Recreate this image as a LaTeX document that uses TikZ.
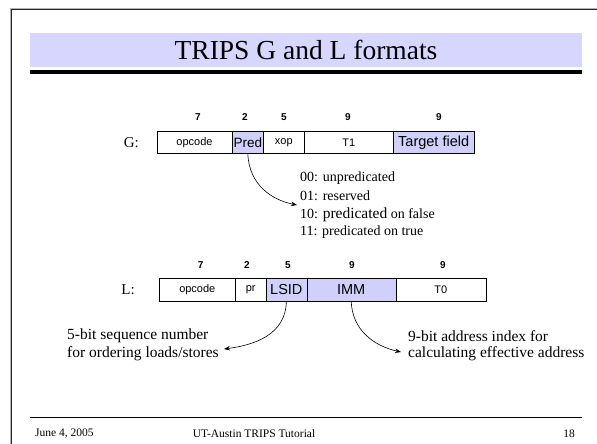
\documentclass[tikz,border=0pt]{standalone}
\usepackage{fontspec}
\setmainfont{Liberation Serif}
\newfontfamily\arialf{Liberation Sans}
\usetikzlibrary{arrows.meta}
\definecolor{tband}{RGB}{214,214,255}
\definecolor{ffill}{RGB}{208,208,250}
\newcommand\fsz[1]{\fontsize{#1}{#1}\selectfont}
\begin{document}
\begin{tikzpicture}[x=1pt,y=-1pt,
 field/.style={draw, inner sep=0, minimum height=22pt, font=\arialf\fsz{11}},
 hifield/.style={field, fill=ffill, font=\arialf\fsz{14.5}},
 bits/.style={font=\arialf\bfseries\fsz{10}},
 rowlab/.style={font=\fsz{15}, anchor=east, inner sep=0},
 note/.style={font=\fsz{14}, anchor=west, inner sep=0},
 bignote/.style={font=\fsz{15.5}, anchor=west, inner sep=0},
 foot/.style={font=\fsz{11.5}, inner sep=0},
 conn/.style={-{Stealth[length=6pt,width=4.5pt]}, line width=0.6pt}
]
\useasboundingbox (0,0) rectangle (597,444);
\fill[white] (0,0) rectangle (597,444);
% frame
\draw[gray!60, line width=1pt] (10,444) -- (10,8.5) -- (597,8.5);
\draw[black!85, line width=1pt] (11.5,444) -- (11.5,10) -- (597,10);
% title
\fill[tband] (30,33) rectangle (582,67);
\fill[black] (30,70) rectangle (582,74);
\node[font=\fsz{27.5}] (title) at (306,50) {TRIPS G and L formats};
% G row
\node[rowlab] (glab) at (139,142.3) {G:};
\node[field, minimum width=75.6pt] (gop) at (194.5,142.3) {opcode};
\node[hifield, minimum width=31pt, font=\arialf\fsz{13.5}] (gpred) at (247.8,142.3) {Pred};
\node[field, minimum width=41pt] (gxop) at (283.8,142.3) {xop};
\node[field, minimum width=89pt] (gt1) at (348.8,142.3) {T1};
\node[hifield, minimum width=80.7pt] (gtgt) at (433.65,142.3) {Target field};
\node[bits] (gb1) at (198,117) {7};
\node[bits] (gb2) at (245,117) {2};
\node[bits] (gb3) at (284,117) {5};
\node[bits] (gb4) at (348,117) {9};
\node[bits] (gb5) at (439,117) {9};
% predicate list
\node[note] (p1) at (300,178) {00: unpredicated};
\node[note] (p2) at (300,196) {01: reserved};
\node[note] (p3) at (300,214.5) {10: {\fsz{15.5}predicated} on false};
\node[note] (p4) at (300,232) {11: predicated on true};
\coordinate (ptip) at (297,205);
\draw[conn] (gpred.south) .. controls (249,185) and (272,200) .. (ptip);
% L row
\node[rowlab] (llab) at (135,289.5) {L:};
\node[field, minimum width=76pt, minimum height=22.4pt] (lop) at (197.3,289.5) {opcode};
\node[field, minimum width=30.7pt, minimum height=22.4pt] (lpr) at (250.65,289.5) {pr};
\node[hifield, minimum width=40.7pt, minimum height=22.4pt] (llsid) at (286.35,289.5) {LSID};
\node[hifield, minimum width=89pt, minimum height=22.4pt] (limm) at (351.2,289.5) {IMM};
\node[field, minimum width=90.3pt, minimum height=22.4pt] (lt0) at (440.85,289.5) {T0};
\node[bits] (lb1) at (200.7,265) {7};
\node[bits] (lb2) at (247,265) {2};
\node[bits] (lb3) at (288,265) {5};
\node[bits] (lb4) at (352,265) {9};
\node[bits] (lb5) at (443,265) {9};
% bottom notes
\node[bignote] (s1) at (67,336) {5-bit sequence number};
\node[bignote] (s2) at (67,354) {for ordering loads/stores};
\node[bignote] (a1) at (408,336) {9-bit address index for};
\node[bignote] (a2) at (408,354) {calculating effective address};
\coordinate (ltip) at (224,349);
\coordinate (itip) at (401,352);
\draw[conn] (llsid.south) .. controls (286,335) and (254,345) .. (ltip);
\draw[conn] (limm.south) .. controls (352,330) and (374,346) .. (itip);
% footer
\draw[line width=0.8pt] (30,417) -- (582,417);
\node[foot, anchor=west] (fdate) at (35,434) {June 4, 2005};
\node[foot] (ftitle) at (254,434) {UT-Austin TRIPS Tutorial};
\node[foot, anchor=east] (fpage) at (575,434) {18};
\end{tikzpicture}
\end{document}
